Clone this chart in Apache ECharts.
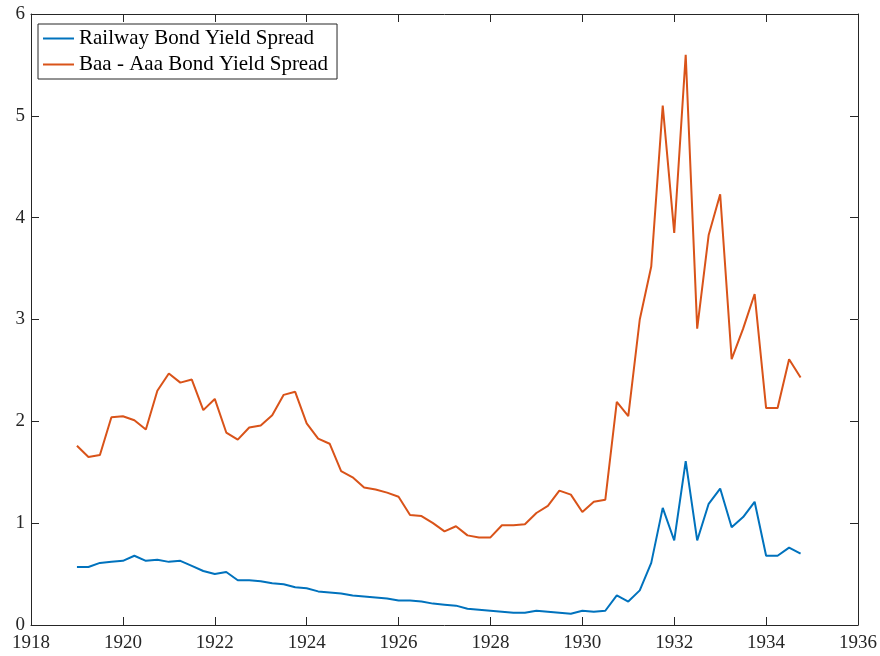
<!DOCTYPE html>
<html>
<head>
<meta charset="utf-8">
<script src="https://cdn.jsdelivr.net/npm/echarts@6/dist/echarts.min.js"></script>
<style>
html,body{margin:0;padding:0;background:#fff;}
#chart{width:880px;height:656px;}
</style>
</head>
<body>
<div id="chart"></div>
<script>
// Quarterly dates
const dates = [
  1919.00,1919.25,1919.50,1919.75,1920.00,1920.25,1920.50,1920.75,
  1921.00,1921.25,1921.50,1921.75,1922.00,1922.25,1922.50,1922.75,
  1923.00,1923.25,1923.50,1923.75,1924.00,1924.25,1924.50,1924.75,
  1925.00,1925.25,1925.50,1925.75,1926.00,1926.25,1926.50,1926.75,
  1927.00,1927.25,1927.50,1927.75,1928.00,1928.25,1928.50,1928.75,
  1929.00,1929.25,1929.50,1929.75,1930.00,1930.25,1930.50,1930.75,
  1931.00,1931.25,1931.50,1931.75,1932.00,1932.25,1932.50,1932.75,
  1933.00,1933.25,1933.50,1933.75,1934.00,1934.25,1934.50,1934.75
];
const railwaySpread = [
  0.57,0.57,0.61,0.62,0.63,0.68,0.63,0.64,
  0.62,0.63,0.58,0.53,0.50,0.52,0.44,0.44,
  0.43,0.41,0.40,0.37,0.36,0.33,0.32,0.31,
  0.29,0.28,0.27,0.26,0.24,0.24,0.23,0.21,
  0.20,0.19,0.16,0.15,0.14,0.13,0.12,0.12,
  0.14,0.13,0.12,0.11,0.14,0.13,0.14,0.29,
  0.23,0.34,0.61,1.15,0.83,1.61,0.83,1.19,
  1.34,0.96,1.06,1.21,0.68,0.68,0.76,0.70
];
const baaAaaSpread = [
  1.76,1.65,1.67,2.04,2.05,2.01,1.92,2.30,
  2.47,2.38,2.41,2.11,2.22,1.89,1.82,1.94,
  1.96,2.06,2.26,2.29,1.98,1.83,1.78,1.51,
  1.45,1.35,1.33,1.30,1.26,1.08,1.07,1.00,
  0.92,0.97,0.88,0.86,0.86,0.98,0.98,0.99,
  1.10,1.17,1.32,1.28,1.11,1.21,1.23,2.19,
  2.05,3.00,3.52,5.10,3.85,5.60,2.91,3.83,
  4.23,2.61,2.91,3.25,2.13,2.13,2.61,2.43
];
const seriesNames = ['Railway Bond Yield Spread', 'Baa - Aaa Bond Yield Spread'];
const seriesColors = ['#0072BD', '#D95319'];

const FONT = 'Liberation Serif';
const AX = '#262626';

function pairs(xs, ys){ return xs.map((x,i)=>[x, ys[i]]); }

const chart = echarts.init(document.getElementById('chart'), null, {renderer:'canvas'});
const baseX = {
  type:'value', min:1918, max:1936, interval:2,
  axisLine:{show:true, onZero:false, lineStyle:{color:AX, width:1}},
  axisTick:{show:true, inside:true, length:8, lineStyle:{color:AX}},
  splitLine:{show:false}
};
const baseY = {
  type:'value', min:0, max:6, interval:1,
  axisLine:{show:true, onZero:false, lineStyle:{color:AX, width:1}},
  axisTick:{show:true, inside:true, length:8, lineStyle:{color:AX}},
  splitLine:{show:false}
};
const lineIcon = 'path://M0,0 L31,0 L31,2 L0,2 Z';
chart.setOption({
  animation:false,
  backgroundColor:'#fff',
  grid:{left:31, right:22, top:14, bottom:31, containLabel:false},
  legend:{
    orient:'vertical', left:38, top:24,
    backgroundColor:'#fff', borderColor:AX, borderWidth:1,
    padding:[4,9,4,5], itemGap:5, itemWidth:31, itemHeight:2,
    textStyle:{fontFamily:FONT, fontSize:21, color:'#000', lineHeight:21},
    data: seriesNames.map(n=>({name:n, icon:lineIcon}))
  },
  xAxis:[
    Object.assign({}, baseX, {position:'bottom',
      axisLabel:{fontFamily:FONT, fontSize:19, color:AX, margin:9, formatter:v=>String(v)}}),
    Object.assign({}, baseX, {position:'top', axisLabel:{show:false}})
  ],
  yAxis:[
    Object.assign({}, baseY, {position:'left',
      axisLabel:{fontFamily:FONT, fontSize:19, color:AX, margin:6}}),
    Object.assign({}, baseY, {position:'right', axisLabel:{show:false}})
  ],
  series:[
    {name:seriesNames[0], type:'line', data:pairs(dates, railwaySpread),
     symbol:'none', lineStyle:{color:seriesColors[0], width:2}, itemStyle:{color:seriesColors[0]}},
    {name:seriesNames[1], type:'line', data:pairs(dates, baaAaaSpread),
     symbol:'none', lineStyle:{color:seriesColors[1], width:2}, itemStyle:{color:seriesColors[1]}}
  ]
});
</script>
</body>
</html>
